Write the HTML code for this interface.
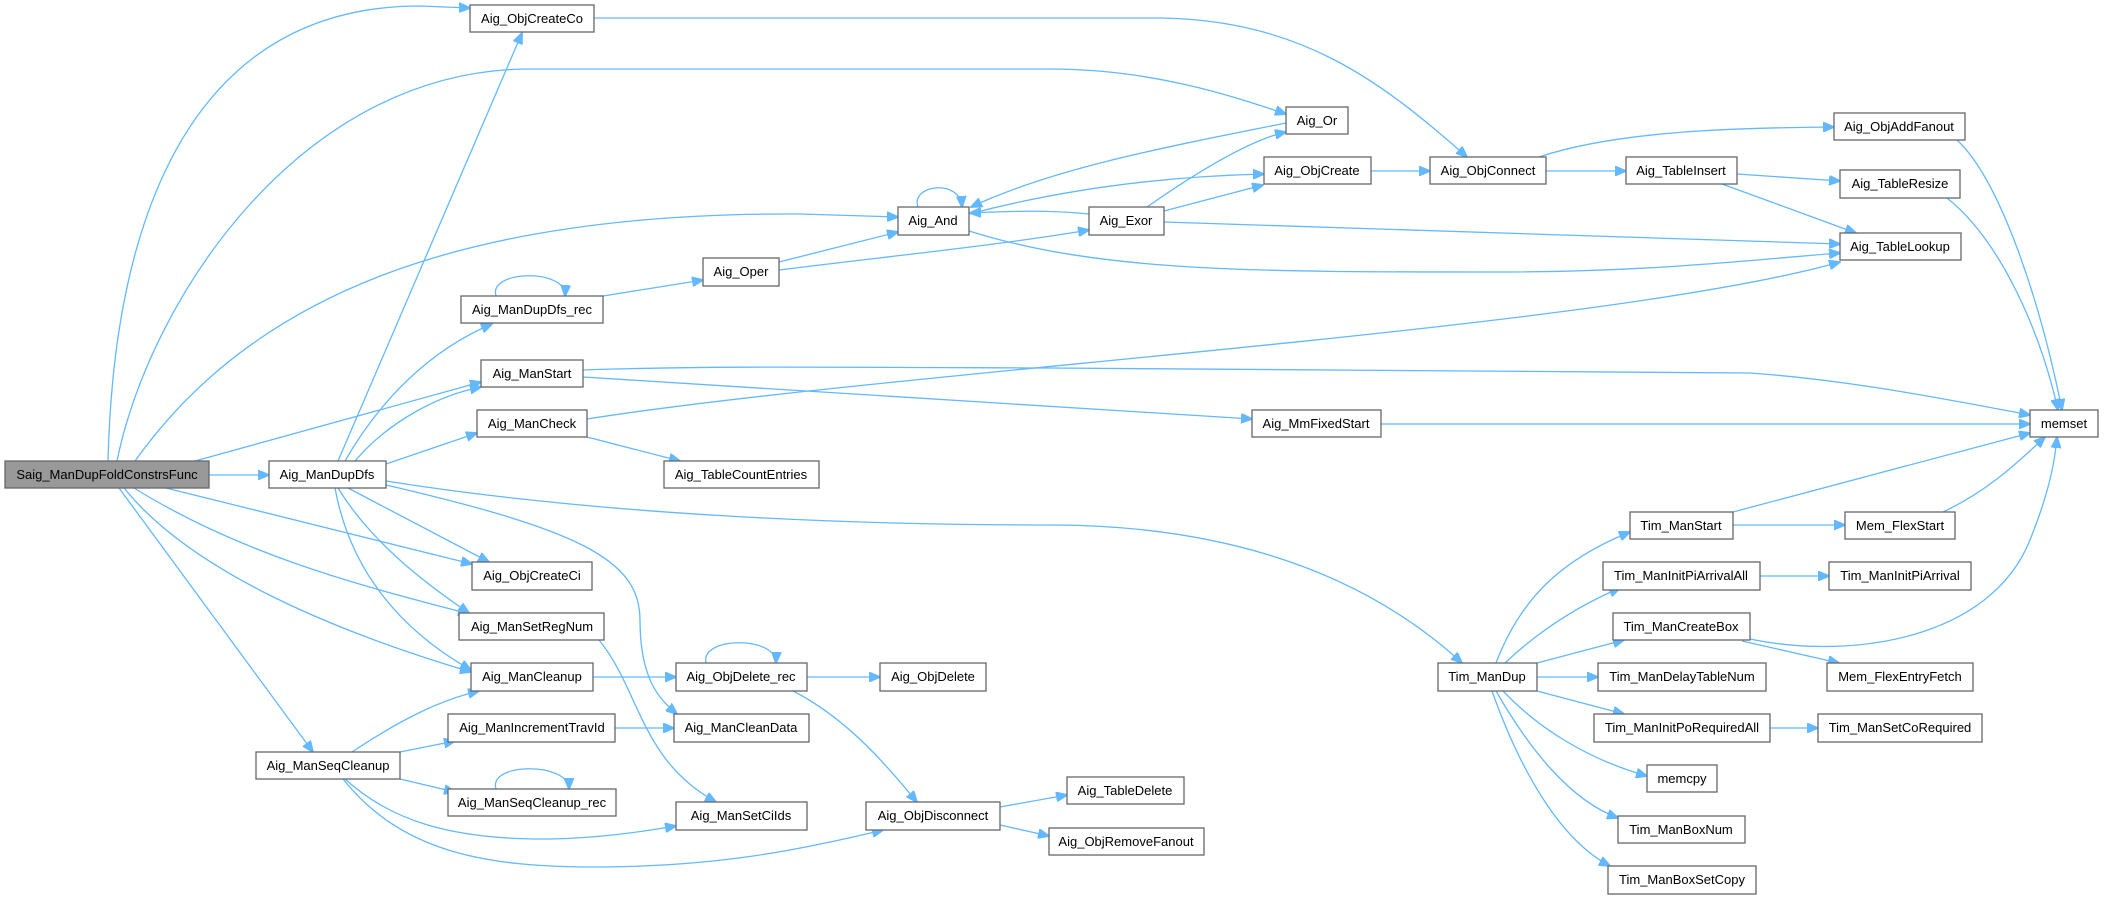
<!DOCTYPE html>
<html><head><meta charset="utf-8"><style>
html,body{margin:0;padding:0;background:#fff;}
svg{display:block}
text{font-family:"Liberation Sans",Arial,sans-serif;font-size:13px;fill:#000;text-anchor:middle}
.n{fill:#fff;stroke:#666;stroke-width:1.3}
.e{fill:none;stroke:#63b8ff;stroke-width:1.3}
</style></head><body>
<svg width="2104" height="899" viewBox="0 0 2104 899" xmlns="http://www.w3.org/2000/svg">
<defs>
<marker id="a" markerWidth="12" markerHeight="10" refX="11" refY="5" orient="auto" markerUnits="userSpaceOnUse">
<path d="M0,0 L12,5 L0,10 Z" fill="#63b8ff" stroke="#63b8ff"/>
</marker>
</defs>
<g class="e" marker-end="url(#a)">
<!-- Saig edges -->
<path d="M108,461 C112,300 150,6 420,6 L470,8"/>
<path d="M117,461 C150,300 300,69 530,69 L1050,69 C1150,69 1230,95 1286,114"/>
<path d="M135,461 C250,300 450,212 800,214 L898,217"/>
<path d="M195,461 L481,382"/>
<path d="M209,475 L269,475"/>
<path d="M166,488 L472,564"/>
<path d="M134,488 C250,560 380,590 469,614"/>
<path d="M124,488 C190,570 330,630 471,672"/>
<path d="M119,488 L313,752"/>
<!-- ManDupDfs -->
<path d="M338,461 L522,33"/>
<path d="M345,461 C380,400 430,350 492,324"/>
<path d="M355,461 C390,420 440,395 481,387"/>
<path d="M386,464 L477,433"/>
<path d="M386,481 C600,515 850,525 1050,525 C1200,525 1350,560 1462,663"/>
<path d="M386,485 C580,530 640,560 640,620 C640,680 660,700 677,714"/>
<path d="M348,488 L489,562"/>
<path d="M338,488 C370,540 420,580 469,613"/>
<path d="M335,488 C350,570 400,630 471,670"/>
<!-- lower left -->
<path d="M599,640 C640,690 640,760 716,802"/>
<path d="M593,677 L676,677"/>
<path d="M807,677 L880,677"/>
<path d="M793,691 C850,720 890,770 917,802"/>
<path d="M615,728 L674,728"/>
<path d="M352,752 C400,720 440,700 479,691"/>
<path d="M400,752 L455,741"/>
<path d="M400,779 L455,792"/>
<path d="M345,779 C390,820 450,840 550,839 C600,838 640,832 676,826"/>
<path d="M343,779 C400,850 480,868 603,867 C720,866 800,850 883,830"/>
<path d="M1000,807 L1067,795"/>
<path d="M1000,825 L1049,836"/>
<!-- self loops -->
<path d="M918,207 C910,185 960,178 962,207"/>
<path d="M496,296 C488,270 567,268 565,296"/>
<path d="M706,663 C700,636 777,636 776,663"/>
<path d="M496,789 C488,762 569,762 569,789"/>
<!-- middle -->
<path d="M603,296 L703,280"/>
<path d="M779,262 L898,232"/>
<path d="M779,270 C900,255 1000,245 1089,230"/>
<path d="M1286,123 C1150,150 1050,170 971,207"/>
<path d="M969,214 C1080,185 1180,176 1264,174"/>
<path d="M1089,214 C1050,210 1010,211 970,213"/>
<path d="M969,231 C1100,272 1250,272 1500,272 C1650,272 1750,260 1840,253"/>
<path d="M1147,207 C1200,170 1250,140 1286,132"/>
<path d="M1164,211 L1263,185"/>
<path d="M1164,222 L1840,244"/>
<path d="M1371,171 L1430,171"/>
<path d="M594,18 L1160,18 C1300,20 1380,80 1467,157"/>
<path d="M1546,171 L1626,171"/>
<path d="M1539,157 C1620,130 1740,128 1834,127"/>
<path d="M1737,174 L1840,181"/>
<path d="M1722,184 L1856,233"/>
<path d="M1957,140 C2000,180 2040,300 2062,410"/>
<path d="M1947,198 C2000,240 2040,330 2058,410"/>
<path d="M587,419 C900,370 1600,330 1840,262"/>
<path d="M587,437 L680,461"/>
<path d="M583,370 C700,366 800,367 1050,368 L1750,373 C1850,380 1950,400 2030,415"/>
<path d="M583,377 L1252,419"/>
<path d="M1381,424 L2030,424"/>
<!-- Tim -->
<path d="M1733,512 L2030,433"/>
<path d="M1943,512 C1990,490 2020,460 2045,437"/>
<path d="M1750,639 C1850,660 1990,640 2030,540 C2050,490 2055,460 2057,437"/>
<path d="M1733,525 L1845,525"/>
<path d="M1760,576 L1829,576"/>
<path d="M1742,641 L1839,663"/>
<path d="M1770,728 L1818,728"/>
<path d="M1496,663 C1520,600 1560,560 1630,532"/>
<path d="M1505,663 C1540,630 1580,605 1620,588"/>
<path d="M1537,663 L1624,640"/>
<path d="M1537,677 L1598,677"/>
<path d="M1537,691 L1624,714"/>
<path d="M1503,691 C1540,730 1590,760 1647,776"/>
<path d="M1496,691 C1530,750 1570,800 1618,818"/>
<path d="M1492,691 C1520,770 1560,840 1610,866"/>
</g>
<g>
<rect x="5" y="461" width="204" height="27" fill="#999" stroke="#666" stroke-width="1.3"/><text x="107" y="479">Saig_ManDupFoldConstrsFunc</text>
<rect class="n" x="269" y="461" width="117" height="27"/><text x="327" y="479">Aig_ManDupDfs</text>
<rect class="n" x="470" y="5" width="124" height="27"/><text x="532" y="23">Aig_ObjCreateCo</text>
<rect class="n" x="898" y="207" width="71" height="28"/><text x="933" y="225">Aig_And</text>
<rect class="n" x="703" y="258" width="76" height="28"/><text x="741" y="276">Aig_Oper</text>
<rect class="n" x="461" y="296" width="142" height="27"/><text x="532" y="314">Aig_ManDupDfs_rec</text>
<rect class="n" x="481" y="360" width="102" height="27"/><text x="532" y="378">Aig_ManStart</text>
<rect class="n" x="477" y="410" width="110" height="27"/><text x="532" y="428">Aig_ManCheck</text>
<rect class="n" x="664" y="461" width="155" height="27"/><text x="741" y="479">Aig_TableCountEntries</text>
<rect class="n" x="472" y="562" width="120" height="28"/><text x="532" y="580">Aig_ObjCreateCi</text>
<rect class="n" x="459" y="613" width="145" height="27"/><text x="532" y="631">Aig_ManSetRegNum</text>
<rect class="n" x="471" y="663" width="122" height="28"/><text x="532" y="681">Aig_ManCleanup</text>
<rect class="n" x="676" y="663" width="131" height="28"/><text x="741" y="681">Aig_ObjDelete_rec</text>
<rect class="n" x="880" y="663" width="106" height="28"/><text x="933" y="681">Aig_ObjDelete</text>
<rect class="n" x="448" y="714" width="167" height="28"/><text x="532" y="732">Aig_ManIncrementTravId</text>
<rect class="n" x="674" y="714" width="135" height="28"/><text x="741" y="732">Aig_ManCleanData</text>
<rect class="n" x="256" y="752" width="144" height="27"/><text x="328" y="770">Aig_ManSeqCleanup</text>
<rect class="n" x="448" y="789" width="168" height="27"/><text x="532" y="807">Aig_ManSeqCleanup_rec</text>
<rect class="n" x="676" y="802" width="131" height="28"/><text x="741" y="820">Aig_ManSetCiIds</text>
<rect class="n" x="866" y="802" width="134" height="28"/><text x="933" y="820">Aig_ObjDisconnect</text>
<rect class="n" x="1286" y="107" width="62" height="27"/><text x="1317" y="125">Aig_Or</text>
<rect class="n" x="1264" y="157" width="107" height="27"/><text x="1317" y="175">Aig_ObjCreate</text>
<rect class="n" x="1430" y="157" width="116" height="27"/><text x="1488" y="175">Aig_ObjConnect</text>
<rect class="n" x="1626" y="157" width="111" height="27"/><text x="1681" y="175">Aig_TableInsert</text>
<rect class="n" x="1834" y="113" width="131" height="27"/><text x="1899" y="131">Aig_ObjAddFanout</text>
<rect class="n" x="1840" y="170" width="120" height="28"/><text x="1900" y="188">Aig_TableResize</text>
<rect class="n" x="1089" y="207" width="75" height="28"/><text x="1126" y="225">Aig_Exor</text>
<rect class="n" x="1840" y="233" width="121" height="27"/><text x="1900" y="251">Aig_TableLookup</text>
<rect class="n" x="1252" y="410" width="129" height="27"/><text x="1316" y="428">Aig_MmFixedStart</text>
<rect class="n" x="2030" y="410" width="68" height="27"/><text x="2064" y="428">memset</text>
<rect class="n" x="1630" y="512" width="103" height="27"/><text x="1681" y="530">Tim_ManStart</text>
<rect class="n" x="1845" y="512" width="110" height="27"/><text x="1900" y="530">Mem_FlexStart</text>
<rect class="n" x="1603" y="562" width="157" height="28"/><text x="1681" y="580">Tim_ManInitPiArrivalAll</text>
<rect class="n" x="1829" y="562" width="142" height="28"/><text x="1900" y="580">Tim_ManInitPiArrival</text>
<rect class="n" x="1613" y="613" width="137" height="27"/><text x="1681" y="631">Tim_ManCreateBox</text>
<rect class="n" x="1438" y="663" width="99" height="28"/><text x="1487" y="681">Tim_ManDup</text>
<rect class="n" x="1598" y="663" width="168" height="28"/><text x="1682" y="681">Tim_ManDelayTableNum</text>
<rect class="n" x="1827" y="663" width="146" height="28"/><text x="1900" y="681">Mem_FlexEntryFetch</text>
<rect class="n" x="1594" y="714" width="176" height="28"/><text x="1682" y="732">Tim_ManInitPoRequiredAll</text>
<rect class="n" x="1818" y="714" width="164" height="28"/><text x="1900" y="732">Tim_ManSetCoRequired</text>
<rect class="n" x="1647" y="765" width="70" height="27"/><text x="1682" y="783">memcpy</text>
<rect class="n" x="1618" y="816" width="127" height="27"/><text x="1681" y="834">Tim_ManBoxNum</text>
<rect class="n" x="1608" y="866" width="148" height="28"/><text x="1682" y="884">Tim_ManBoxSetCopy</text>
<rect class="n" x="1067" y="777" width="117" height="27"/><text x="1125" y="795">Aig_TableDelete</text>
<rect class="n" x="1049" y="828" width="155" height="27"/><text x="1126" y="846">Aig_ObjRemoveFanout</text>
</g>
</svg>
</body></html>
